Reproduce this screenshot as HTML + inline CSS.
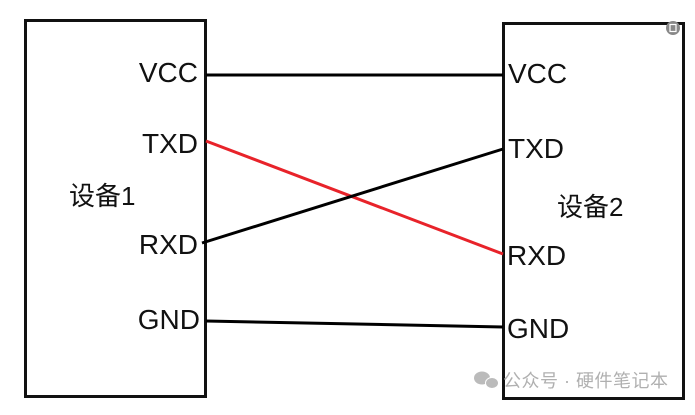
<!DOCTYPE html>
<html><head><meta charset="utf-8"><style>
html,body{margin:0;padding:0;background:#fff;}
svg text{font-family:"Liberation Sans","Noto Sans CJK SC",sans-serif;}
</style></head><body>
<svg width="695" height="410" viewBox="0 0 695 410" xmlns="http://www.w3.org/2000/svg">
<rect x="0" y="0" width="695" height="410" fill="#fff"/>
<rect x="25.5" y="20.5" width="180" height="376" fill="none" stroke="#111" stroke-width="3"/>
<rect x="503.5" y="23.5" width="180" height="375" fill="none" stroke="#111" stroke-width="3"/>
<line x1="206" y1="75" x2="503" y2="75" stroke="#000" stroke-width="3"/>
<line x1="206" y1="141" x2="503" y2="254" stroke="#e8232a" stroke-width="3"/>
<line x1="202" y1="243" x2="503" y2="149" stroke="#000" stroke-width="3"/>
<line x1="206" y1="321" x2="503" y2="327" stroke="#000" stroke-width="3"/>
<g font-size="28" fill="#111">
<text x="198" y="82" text-anchor="end">VCC</text>
<text x="198" y="153" text-anchor="end">TXD</text>
<text x="198" y="254" text-anchor="end">RXD</text>
<text x="200" y="329" text-anchor="end">GND</text>
<text x="508" y="83">VCC</text>
<text x="508" y="158">TXD</text>
<text x="507" y="265">RXD</text>
<text x="507" y="338">GND</text>
<text x="69" y="205" font-size="26">设备1</text>
<text x="557" y="216" font-size="26">设备2</text>
</g>
<circle cx="673" cy="28" r="7" fill="#888"/>
<rect x="670" y="24.5" width="6" height="7" fill="none" stroke="#fff" stroke-width="1.2"/>
<ellipse cx="482" cy="378" rx="8" ry="6.5" fill="#bbb"/>
<ellipse cx="492" cy="383" rx="6.5" ry="5.5" fill="#bbb" stroke="#fff" stroke-width="1"/>
<text x="503" y="387" font-size="18" fill="#b0b0b0" textLength="165">公众号 · 硬件笔记本</text>
</svg>
</body></html>
